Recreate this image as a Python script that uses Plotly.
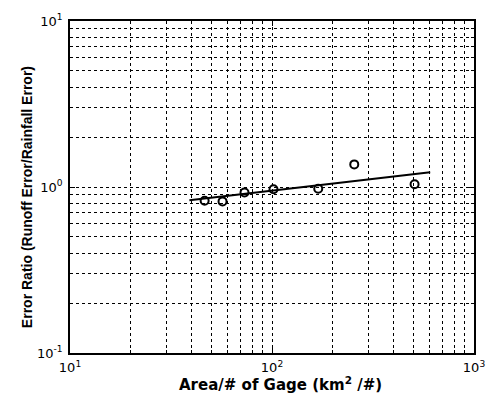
import plotly.graph_objects as go

# data
area_per_gage = [46.4, 56.9, 73.1, 101.7, 169.4, 255.4, 508.0]
error_ratio = [0.827, 0.819, 0.927, 0.970, 0.976, 1.368, 1.039]

fit_x = [39.0, 607.0]
fit_y = [0.831, 1.226]

x_tickvals = [10, 100, 1000]
x_ticktext = ["10<sup>1</sup>", "10<sup>2</sup>", "10<sup>3</sup>"]
y_tickvals = [0.1, 1, 10]
y_ticktext = ["10<sup>-1</sup>", "10<sup>0</sup>", "10<sup>1</sup>"]
x_minor = [20, 30, 40, 50, 60, 70, 80, 90, 200, 300, 400, 500, 600, 700, 800, 900]
y_minor = [0.2, 0.3, 0.4, 0.5, 0.6, 0.7, 0.8, 0.9, 2, 3, 4, 5, 6, 7, 8, 9]

x_title = "<b>Area/# of Gage (km<sup>2</sup> /#)</b>"
y_title = "<b>Error Ratio (Runoff Error/Rainfall Error)</b>"

fig = go.Figure()
fig.add_trace(go.Scatter(x=fit_x, y=fit_y, mode="lines",
                         line=dict(color="black", width=2), showlegend=False))
fig.add_trace(go.Scatter(x=area_per_gage, y=error_ratio, mode="markers",
                         marker=dict(symbol="circle-open", size=8, color="black",
                                     line=dict(width=2, color="black")),
                         showlegend=False))

grid = dict(gridcolor="black", gridwidth=1, griddash="3px,3px")
axis_common = dict(type="log", showline=True, linecolor="black", linewidth=1.5,
                   mirror="ticks", ticks="inside", ticklen=5, tickcolor="black",
                   tickfont=dict(family="DejaVu Sans", size=13, color="black"),
                   zeroline=False, showgrid=True, **grid)

fig.update_xaxes(range=[1, 3], tickvals=x_tickvals, ticktext=x_ticktext,
                 ticklabelstandoff=2,
                 minor=dict(tickvals=x_minor, showgrid=True, ticks="inside", ticklen=3,
                            tickcolor="black", **grid),
                 **axis_common)
fig.update_yaxes(range=[-1, 1], tickvals=y_tickvals, ticktext=y_ticktext,
                 ticklabelstandoff=3,
                 minor=dict(tickvals=y_minor, showgrid=True, ticks="inside", ticklen=3,
                            tickcolor="black", **grid),
                 **axis_common)

fig.add_annotation(text=x_title, xref="paper", yref="paper", x=0.520, y=-0.093,
                   xanchor="center", yanchor="middle", showarrow=False,
                   font=dict(family="DejaVu Sans", size=15, color="black"))
fig.add_annotation(text=y_title, xref="paper", yref="paper", x=-0.106, y=0.47,
                   xanchor="center", yanchor="middle", showarrow=False, textangle=-90,
                   font=dict(family="Liberation Sans", size=14, color="black"))

fig.update_layout(width=497, height=401, margin=dict(l=70, r=12, t=18, b=48),
                  plot_bgcolor="white", paper_bgcolor="white")
fig.write_html("out.html")
